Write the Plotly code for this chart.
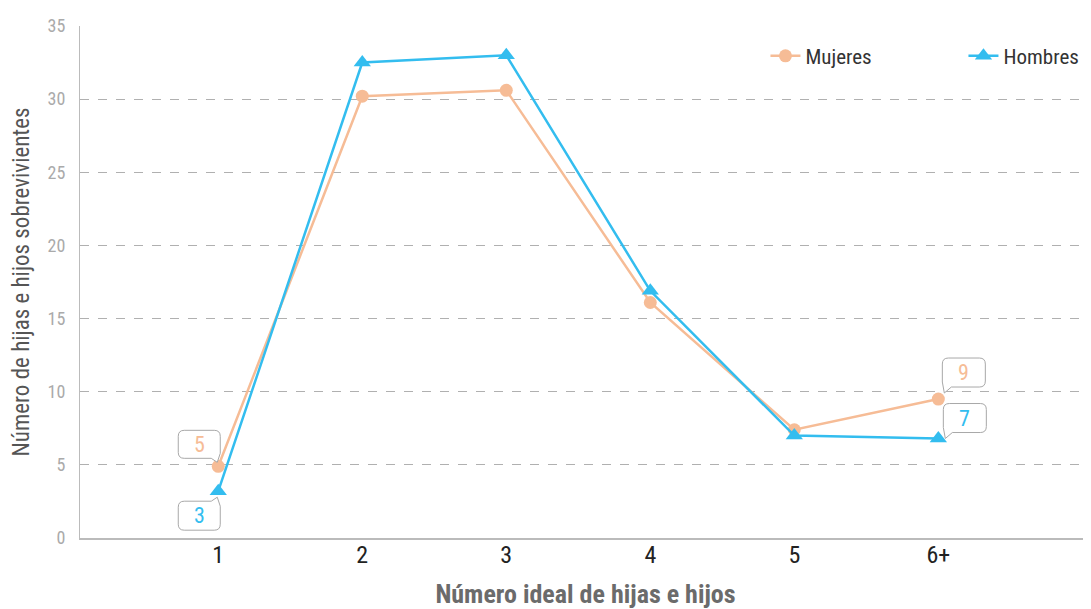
import plotly.graph_objects as go

categories = ["1", "2", "3", "4", "5", "6+"]
mujeres = [4.9, 30.2, 30.6, 16.1, 7.4, 9.5]
hombres = [3.2, 32.5, 33.0, 16.9, 7.0, 6.8]
y_ticks = [0, 5, 10, 15, 20, 25, 30, 35]

C_M = "#F6BC96"
C_H = "#33BDEF"
FONT = "Roboto Condensed, Liberation Sans Narrow, Roboto, sans-serif"

fig = go.Figure()
fig.add_trace(go.Scatter(x=list(range(6)), y=mujeres, name="Mujeres", mode="lines+markers",
                         line=dict(color=C_M, width=2.5),
                         marker=dict(symbol="circle", size=13, color=C_M)))
fig.add_trace(go.Scatter(x=list(range(6)), y=hombres, name="Hombres", mode="lines+markers",
                         line=dict(color=C_H, width=2.5),
                         marker=dict(symbol="triangle-up", size=15, color=C_H)))


def bubble(L, R, B, T, tail, r=6):
    """Rounded speech bubble path in pixel offsets (y up) with a tail at one corner."""
    p = []
    if tail == "br":
        p = [f"M{L+r},{T}", f"L{R-r},{T}", f"Q{R},{T} {R},{T-r}", f"L{R},{B+5}",
             f"L{R-3},{B-4}", f"L{R-9},{B}", f"L{L+r},{B}", f"Q{L},{B} {L},{B+r}",
             f"L{L},{T-r}", f"Q{L},{T} {L+r},{T}", "Z"]
    elif tail == "tr":
        p = [f"M{L+r},{T}", f"L{R-9},{T}", f"L{R-3},{T+4}", f"L{R},{T-5}",
             f"L{R},{B+r}", f"Q{R},{B} {R-r},{B}", f"L{L+r},{B}", f"Q{L},{B} {L},{B+r}",
             f"L{L},{T-r}", f"Q{L},{T} {L+r},{T}", "Z"]
    elif tail == "bl":
        p = [f"M{L+r},{T}", f"L{R-r},{T}", f"Q{R},{T} {R},{T-r}", f"L{R},{B+r}",
             f"Q{R},{B} {R-r},{B}", f"L{L+9},{B}", f"L{L+2},{B-6}", f"L{L},{B+5}",
             f"L{L},{T-r}", f"Q{L},{T} {L+r},{T}", "Z"]
    return " ".join(p)


# callout labels: (x index, value, text, colour, left, right, bottom, top, tail corner)
labels = [
    (0, mujeres[0], "5", C_M, -40, 2, 8, 36, "br"),
    (0, hombres[0], "3", C_H, -40, 2, -39, -10, "tr"),
    (5, mujeres[5], "9", C_M, 4, 47, 12, 41, "bl"),
    (5, hombres[5], "7", C_H, 5, 48, 6, 35, "bl"),
]
for xi, yv, txt, col, L, R, B, T, tail in labels:
    fig.add_shape(type="path", xref="x", yref="y", xsizemode="pixel", ysizemode="pixel",
                  xanchor=xi, yanchor=yv, path=bubble(L, R, B, T, tail),
                  line=dict(color="#A8A8A8", width=1), fillcolor="white", layer="above")
    fig.add_annotation(x=xi, y=yv, text=txt, showarrow=False,
                       xshift=(L + R) / 2, yshift=(B + T) / 2,
                       font=dict(family=FONT, size=22, color=col))

# the page body adds an 8px offset, so the figure is sized to fit the window
fig.update_layout(
    width=1083, height=601,
    margin=dict(l=72, r=0, t=18, b=71, autoexpand=False),
    plot_bgcolor="white", paper_bgcolor="white",
    font=dict(family=FONT),
    showlegend=True,
    legend=dict(orientation="h", x=0.678, xanchor="left", y=0.941, yanchor="middle",
                font=dict(family=FONT, size=21, color="#333333"),
                bgcolor="rgba(0,0,0,0)", traceorder="normal",
                entrywidth=153, entrywidthmode="pixels"),
    xaxis=dict(range=[-0.96, 6.06], tickmode="array", tickvals=list(range(6)),
               ticktext=categories, showgrid=False, zeroline=False, automargin=False,
               showline=True, linecolor="#BBBBBB", linewidth=2,
               tickfont=dict(family=FONT, size=24, color="#222222"), ticks="",
               ticklabelstandoff=-6,
               title=dict(text="<b>Número ideal de hijas e hijos</b>",
                          font=dict(family=FONT, size=26, color="#6B6B6B"), standoff=18)),
    yaxis=dict(range=[0, 35], tickmode="array", tickvals=y_ticks, automargin=False,
               showgrid=True, gridcolor="#B0B0B0", griddash="dash", gridwidth=1,
               zeroline=False, showline=True, linecolor="#BBBBBB", linewidth=1,
               tickfont=dict(family=FONT, size=18, color="#AAAAAA"), ticks="",
               ticklabelstandoff=10,
               title=dict(text="Número de hijas e hijos sobrevivientes",
                          font=dict(family=FONT, size=23, color="#555555"), standoff=14)),
)

fig.write_html("out.html")
